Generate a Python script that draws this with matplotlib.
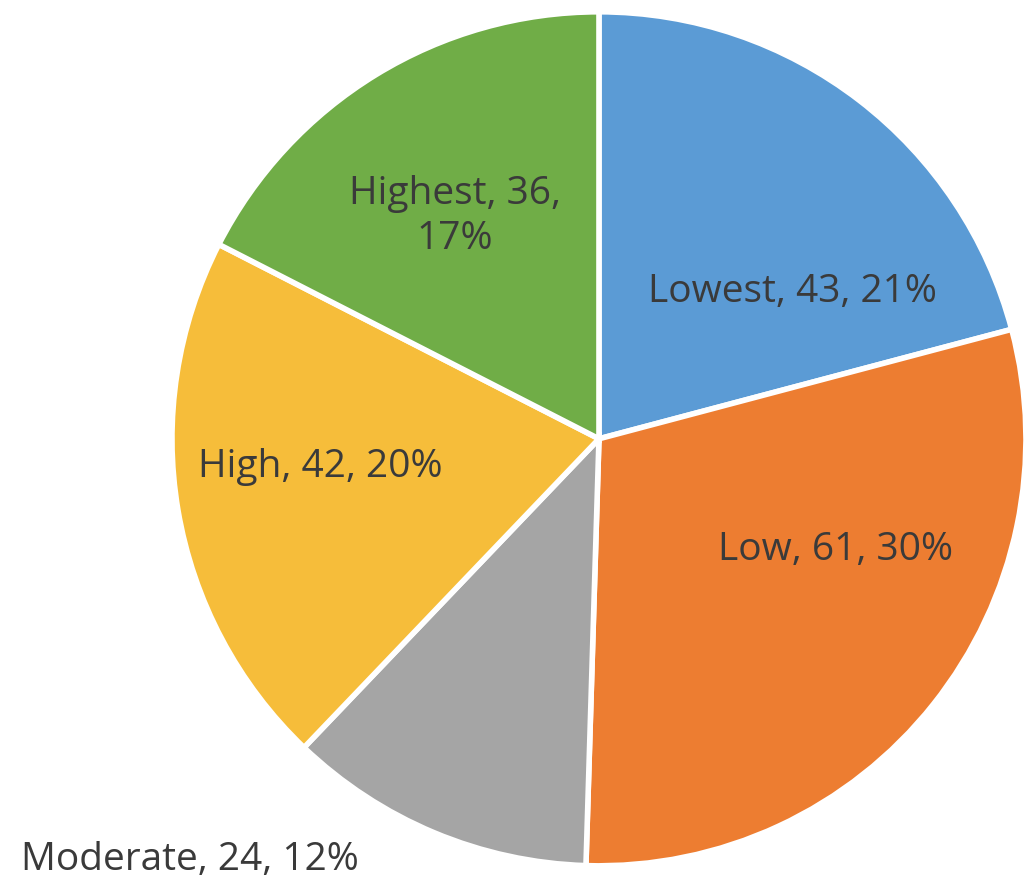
import matplotlib.pyplot as plt

categories = ['Lowest', 'Low', 'Moderate', 'High', 'Highest']
counts = [43, 61, 24, 42, 36]
colors = ['#5B9BD5', '#ED7D31', '#A5A5A5', '#F6BD3A', '#70AD47']

# label anchor points (data coords, pie radius = 1)
label_pos = [(0.454, 0.344), (0.555, -0.26), (-0.958, -0.986), (-0.653, -0.066), (-0.337, 0.52)]

total = sum(counts)

fig = plt.figure(figsize=(10.36, 8.88), dpi=100)
ax = fig.add_axes([0.166, 0.025, 0.8243, 0.9617])
wedges, _ = ax.pie(counts, colors=colors, startangle=90, counterclock=False,
                   wedgeprops=dict(edgecolor='white', linewidth=4))
ax.set_xlim(-1, 1)
ax.set_ylim(-1, 1)
ax.set_aspect('equal')
ax.axis('off')

for cat, val, (x, y) in zip(categories, counts, label_pos):
    pct = round(val / total * 100)
    txt = f'{cat}, {val}, {pct}%'
    if cat == 'Highest':
        txt = f'{cat}, {val},\n{pct}%'
    ax.text(x, y, txt, ha='center', va='center', fontsize=28, color='#3a3a3a',
            family='Open Sans', linespacing=1.25, clip_on=False)

fig.savefig('out.png', dpi=100)
